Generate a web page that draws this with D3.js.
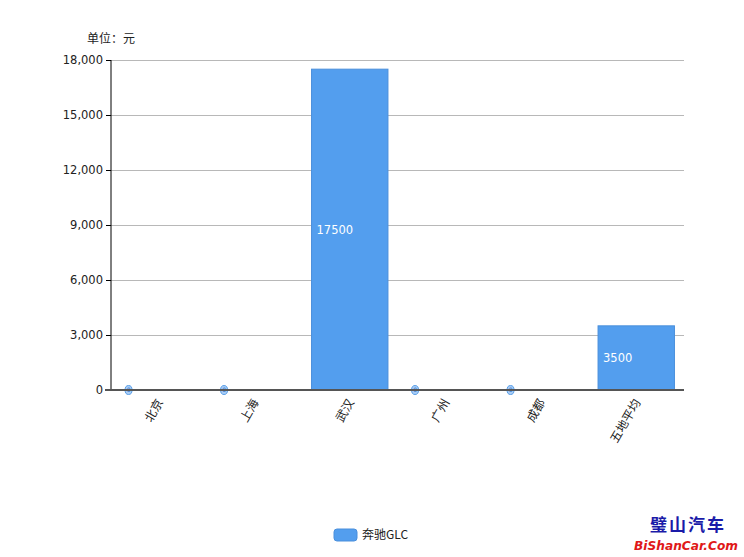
<!DOCTYPE html>
<html><head><meta charset="utf-8">
<script src="https://cdn.jsdelivr.net/npm/d3@7"></script>
<style>body{margin:0;background:#fff;} svg{display:block;font-family:"DejaVu Sans","Noto Sans CJK SC",sans-serif;}</style>
</head><body>
<script>
const categories = ["北京","上海","武汉","广州","成都","五地平均"];
const values = [0,0,17500,0,0,3500];
const yTicks = [0,3000,6000,9000,12000,15000,18000];
const seriesName = "奔驰GLC";
const unitLabel = "单位：元";

const W=744,H=557;
const m={l:111,r:60,t:60,b:167};
const svg=d3.select("body").append("svg").attr("width",W).attr("height",H);
const x=d3.scaleBand().domain(categories).range([m.l,W-m.r]).paddingInner(0.2).paddingOuter(0.1);
const y=d3.scaleLinear().domain([0,18000]).range([H-m.b,m.t]);

// gridlines
svg.append("g").selectAll("line").data(yTicks.filter(d=>d>0)).join("line")
  .attr("x1",m.l).attr("x2",W-m.r).attr("y1",d=>y(d)).attr("y2",d=>y(d))
  .attr("stroke","#b8b8b8").attr("stroke-width",1).attr("shape-rendering","crispEdges");

// y axis
const ya=svg.append("g").attr("transform",`translate(${m.l},0)`)
  .call(d3.axisLeft(y).tickValues(yTicks).tickFormat(d3.format(",")).tickSize(5));
ya.select(".domain").attr("stroke","#000").attr("d",`M0,${y(18000)}V${y(0)}`);
ya.selectAll(".tick line").attr("stroke","#000");
ya.selectAll("text").attr("font-size",11.5).attr("fill","#222").attr("font-family","DejaVu Sans");

// bars
svg.append("g").selectAll("rect").data(values).join("rect")
  .attr("x",(d,i)=>x(categories[i])).attr("width",x.bandwidth())
  .attr("y",d=>y(d)).attr("height",d=>y(0)-y(d))
  .attr("fill","#539eee").attr("stroke","#4a8fdc").attr("stroke-width",1);

// labels
values.forEach((v,i)=>{
  const bx=x(categories[i]);
  if(v>0){
    svg.append("text").attr("x",bx+5).attr("y",(y(v)+y(0))/2).attr("dy","0.35em")
      .attr("fill","#fff").attr("font-size",11.5).text(v);
  } else {
    svg.append("ellipse").attr("cx",bx+8).attr("cy",y(0)).attr("rx",3.5).attr("ry",4.5)
      .attr("fill","#a9cdf6").attr("stroke","#5a9fe8").attr("stroke-width",1);
    svg.append("text").attr("x",bx+8).attr("y",y(0)).attr("dy","0.35em").attr("text-anchor","middle")
      .attr("fill","#2a6fc8").attr("font-size",6).text(v);
  }
});

// x axis line
svg.append("line").attr("x1",m.l-6).attr("x2",W-m.r).attr("y1",y(0)).attr("y2",y(0))
  .attr("stroke","#555").attr("stroke-width",2);

// x labels
svg.append("g").selectAll("text").data(categories).join("text")
  .attr("transform",d=>`translate(${x(d)+x.bandwidth()/2+1},${y(0)+10}) rotate(-60)`)
  .attr("text-anchor","end").attr("dy","0.35em").attr("font-size",12).attr("fill","#222")
  .attr("font-family","Noto Sans CJK SC").text(d=>d);

// unit
svg.append("text").attr("x",87).attr("y",43).attr("font-size",12).attr("fill","#222")
  .attr("font-family","Noto Sans CJK SC").text(unitLabel);

// legend
svg.append("rect").attr("x",334).attr("y",529).attr("width",23).attr("height",12).attr("rx",3)
  .attr("fill","#539eee").attr("stroke","#4a8fdc");
svg.append("text").attr("x",362).attr("y",535).attr("dy","0.35em").attr("font-size",12).attr("fill","#222")
  .attr("font-family","Noto Sans CJK SC").text(seriesName);

// watermark
svg.append("text").attr("x",688).attr("y",531).attr("text-anchor","middle").attr("font-size",17)
  .attr("font-weight","bold").attr("fill","#1a1aa8").attr("font-family","Noto Sans CJK SC")
  .attr("letter-spacing",2).text("璧山汽车");
svg.append("text").attr("x",686).attr("y",550).attr("text-anchor","middle").attr("font-size",12.5)
  .attr("font-weight","bold").attr("font-style","italic").attr("fill","#e01818").attr("font-family","DejaVu Sans")
  .attr("textLength",104).attr("lengthAdjust","spacingAndGlyphs")
  .text("BiShanCar.Com");
</script>
</body></html>
